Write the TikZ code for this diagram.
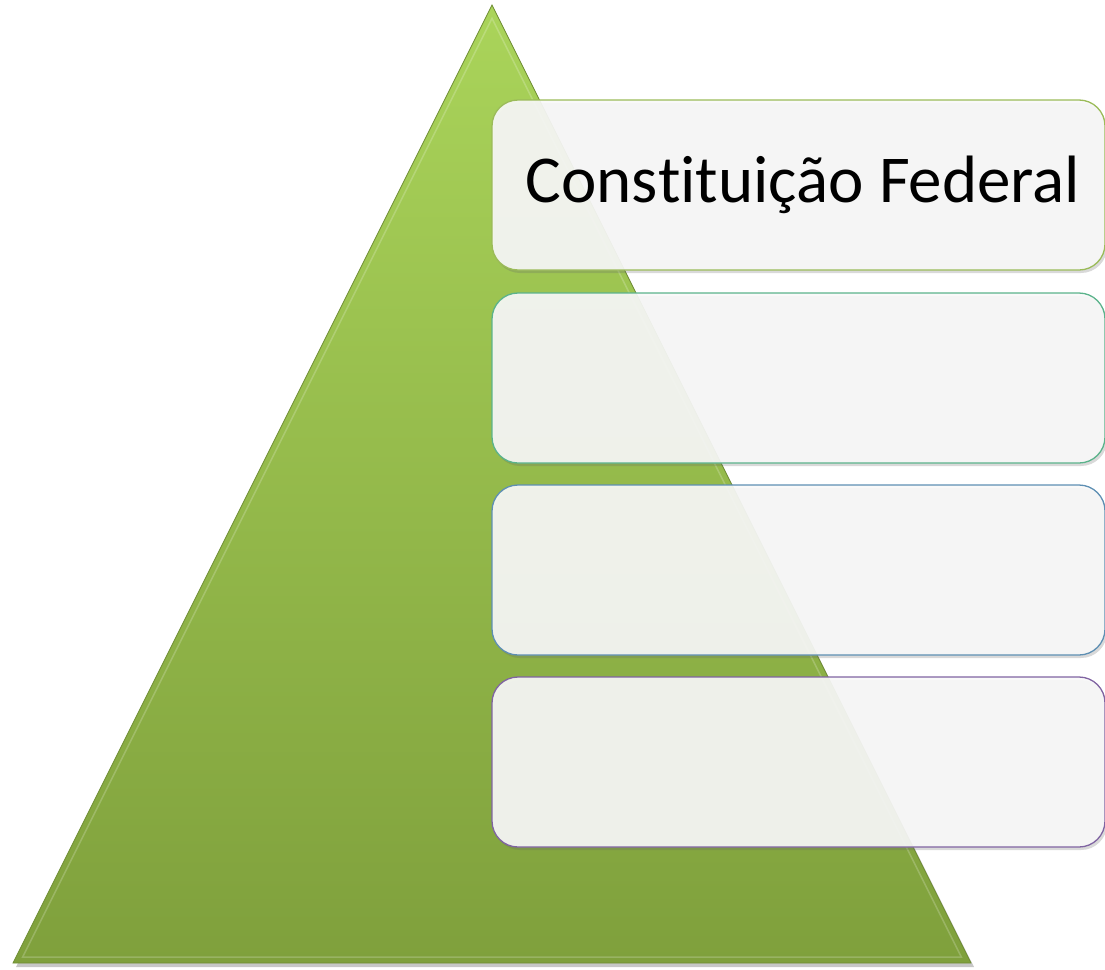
\documentclass[tikz,border=0pt]{standalone}
\usepackage{fontspec}
\setmainfont[Ligatures=NoCommon,RawFeature={-liga;-clig;-dlig}]{Carlito}
\usetikzlibrary{shadows}
\definecolor{trTop}{HTML}{AAD45A}
\definecolor{trBot}{HTML}{7FA03C}
\definecolor{trEdge}{HTML}{6E8C33}
\definecolor{bxFill}{HTML}{F8F8F8}
\definecolor{bOne}{HTML}{9BBB59}
\definecolor{bTwo}{HTML}{5BB38B}
\definecolor{bThree}{HTML}{5E8FB3}
\definecolor{bFour}{HTML}{8064A2}
\tikzset{
  levelbox/.style={draw, line width=1.3pt, fill=bxFill, fill opacity=0.92, draw opacity=1,
    rounded corners=26pt, minimum width=613pt, minimum height=170pt, inner sep=0pt,
    drop shadow={shadow xshift=2pt, shadow yshift=-3pt, opacity=0.25, fill=black!60}},
  boxtext/.style={font=\fontsize{67}{74}\selectfont, text opacity=1, text=black}
}
\begin{document}
\begin{tikzpicture}[x=1pt,y=-1pt]
\useasboundingbox (0,0) rectangle (1105,969);
% pyramid
\fill[black, opacity=0.22] (494,9) -- (16,967) -- (974,967) -- cycle;
\shade[top color=trTop, bottom color=trBot, draw=trEdge, line width=0.8pt]
  (492,5) -- (13,963) -- (971,963) -- cycle;
\draw[white, opacity=0.2, line width=1.5pt] (492,18.4) -- (22.7,957) -- (961.3,957) -- cycle;
% boxes
\node[levelbox, draw=bOne] (b1) at (798.5,185) {};
\node[levelbox, draw=bTwo] (b2) at (798.5,378) {};
\node[levelbox, draw=bThree] (b3) at (798.5,570) {};
\node[levelbox, draw=bFour] (b4) at (798.5,762) {};
\node[boxtext] (t1) at (803,185) {Cons\kern0pt t\kern0pt i\kern0pt t\kern0pt uição Federal};
\end{tikzpicture}
\end{document}
